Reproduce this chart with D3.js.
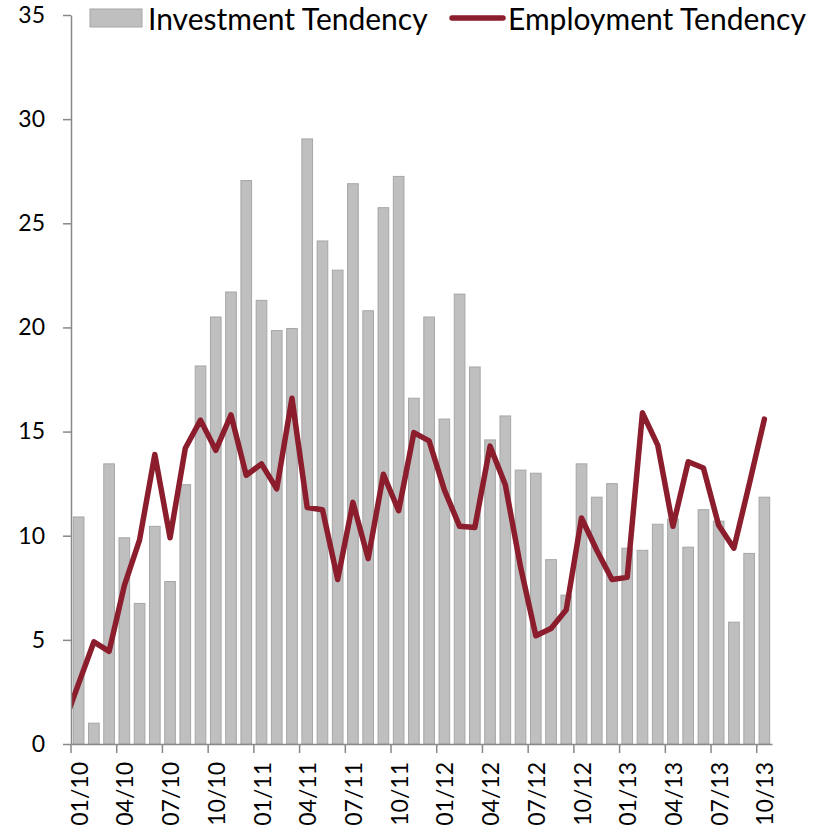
<!DOCTYPE html>
<html>
<head>
<meta charset="utf-8">
<script src="https://cdn.jsdelivr.net/npm/d3@7"></script>
<style>
  body { margin: 0; background: #fff; }
  svg text { font-family: Lato, "Open Sans", sans-serif; fill: #000; }
  .axis path, .axis line { stroke: #888; stroke-width: 1.5; }
</style>
</head>
<body>
<div id="chart"></div>
<script>
// Monthly categories, Jan 2010 - Oct 2013
const months = [
  "01/10","02/10","03/10","04/10","05/10","06/10","07/10","08/10","09/10","10/10","11/10","12/10",
  "01/11","02/11","03/11","04/11","05/11","06/11","07/11","08/11","09/11","10/11","11/11","12/11",
  "01/12","02/12","03/12","04/12","05/12","06/12","07/12","08/12","09/12","10/12","11/12","12/12",
  "01/13","02/13","03/13","04/13","05/13","06/13","07/13","08/13","09/13","10/13"
];

const investment = [
  10.9, 1.0, 13.45, 9.9, 6.75, 10.45, 7.8, 12.45, 18.15, 20.5, 21.7, 27.05,
  21.3, 19.85, 19.95, 29.05, 24.15, 22.75, 26.9, 20.8, 25.75, 27.25, 16.6, 20.5,
  15.6, 21.6, 18.1, 14.6, 15.75, 13.15, 13.0, 8.85, 7.15, 13.45, 11.85, 12.5,
  9.4, 9.3, 10.55, 10.8, 9.45, 11.25, 10.7, 5.85, 9.15, 11.85
];

const employment = [
  2.9, 4.9, 4.45, 7.6, 9.8, 13.9, 9.9, 14.2, 15.55, 14.1, 15.8, 12.9,
  13.45, 12.25, 16.6, 11.35, 11.25, 7.9, 11.6, 8.9, 12.95, 11.2, 14.95, 14.55,
  12.2, 10.45, 10.4, 14.3, 12.45, 8.5, 5.2, 5.55, 6.45, 10.85, 9.3, 7.9,
  8.0, 15.9, 14.35, 10.45, 13.55, 13.25, 10.5, 9.4, 12.45, 15.6
];

// the line enters from the previous month (12/09), clipped at the axis
const employmentBefore = 0.9;

const yTicks = [0, 5, 10, 15, 20, 25, 30, 35];
const xTickLabels = months.filter((m, i) => i % 3 === 0);

const seriesNames = ["Investment Tendency", "Employment Tendency"];

const config = {
  width: 831,
  height: 829,
  margin: {top: 15, right: 59, bottom: 85, left: 71},
  barFill: "#bfbfbf",
  barStroke: "#a6a6a6",
  lineColor: "#8b1d2d"
};

const innerW = config.width - config.margin.left - config.margin.right;
const innerH = config.height - config.margin.top - config.margin.bottom;

const svg = d3.select("#chart").append("svg")
    .attr("width", config.width)
    .attr("height", config.height);

const chart = svg.append("g")
    .attr("transform", `translate(${config.margin.left},${config.margin.top})`);

// scales
const xScale = d3.scaleBand()
    .domain(months)
    .range([0, innerW])
    .paddingInner(0.3)
    .paddingOuter(0.15);

const yScale = d3.scaleLinear()
    .domain([0, 35])
    .range([innerH, 0]);

const step = xScale.step();
const center = m => xScale(m) + xScale.bandwidth() / 2;

// bars
chart.selectAll(".bar")
    .data(months.map((m, i) => ({month: m, value: investment[i]})))
  .join("rect")
    .attr("class", "bar")
    .attr("x", d => xScale(d.month))
    .attr("y", d => yScale(d.value))
    .attr("width", xScale.bandwidth())
    .attr("height", d => innerH - yScale(d.value))
    .attr("fill", config.barFill)
    .attr("stroke", config.barStroke)
    .attr("stroke-width", 1);

// line
svg.append("defs").append("clipPath")
    .attr("id", "plot-clip")
  .append("rect")
    .attr("x", 0)
    .attr("y", -10)
    .attr("width", innerW + 10)
    .attr("height", innerH + 20);

const linePoints = [{x: center(months[0]) - step, v: employmentBefore}]
    .concat(months.map((m, i) => ({x: center(m), v: employment[i]})));

const line = d3.line()
    .x(d => d.x)
    .y(d => yScale(d.v));

chart.append("path")
    .datum(linePoints)
    .attr("clip-path", "url(#plot-clip)")
    .attr("fill", "none")
    .attr("stroke", config.lineColor)
    .attr("stroke-width", 5.5)
    .attr("stroke-linejoin", "round")
    .attr("stroke-linecap", "round")
    .attr("d", line);

// axes
const yAxis = d3.axisLeft(yScale)
    .tickValues(yTicks)
    .tickSize(8)
    .tickSizeOuter(0)
    .tickPadding(18);

const yAxisG = chart.append("g")
    .attr("class", "axis y-axis")
    .call(yAxis);
yAxisG.selectAll("text").style("font-size", "23px");

const xAxis = d3.axisBottom(xScale)
    .tickValues(xTickLabels)
    .tickSize(9)
    .tickSizeOuter(0);

const xAxisG = chart.append("g")
    .attr("class", "axis x-axis")
    .attr("transform", `translate(0,${innerH})`)
    .call(xAxis);

// tick marks sit on the category boundaries, labels stay centred
xAxisG.selectAll(".tick line")
    .attr("x1", -step / 2)
    .attr("x2", -step / 2);

xAxisG.selectAll(".tick text")
    .attr("transform", "rotate(-90)")
    .attr("x", -18)
    .attr("y", 1)
    .attr("dy", "0.35em")
    .style("text-anchor", "end")
    .style("font-size", "23px");

// legend
const legend = svg.append("g").attr("class", "legend");

legend.append("rect")
    .attr("x", 90)
    .attr("y", 9)
    .attr("width", 52)
    .attr("height", 18)
    .attr("fill", config.barFill)
    .attr("stroke", config.barStroke);

legend.append("text")
    .attr("x", 148)
    .attr("y", 30)
    .style("font-size", "30px")
    .text(seriesNames[0]);

legend.append("line")
    .attr("x1", 452)
    .attr("x2", 503)
    .attr("y1", 18)
    .attr("y2", 18)
    .attr("stroke", config.lineColor)
    .attr("stroke-width", 5.5)
    .attr("stroke-linecap", "round");

legend.append("text")
    .attr("x", 508)
    .attr("y", 30)
    .style("font-size", "30px")
    .text(seriesNames[1]);
</script>
</body>
</html>
